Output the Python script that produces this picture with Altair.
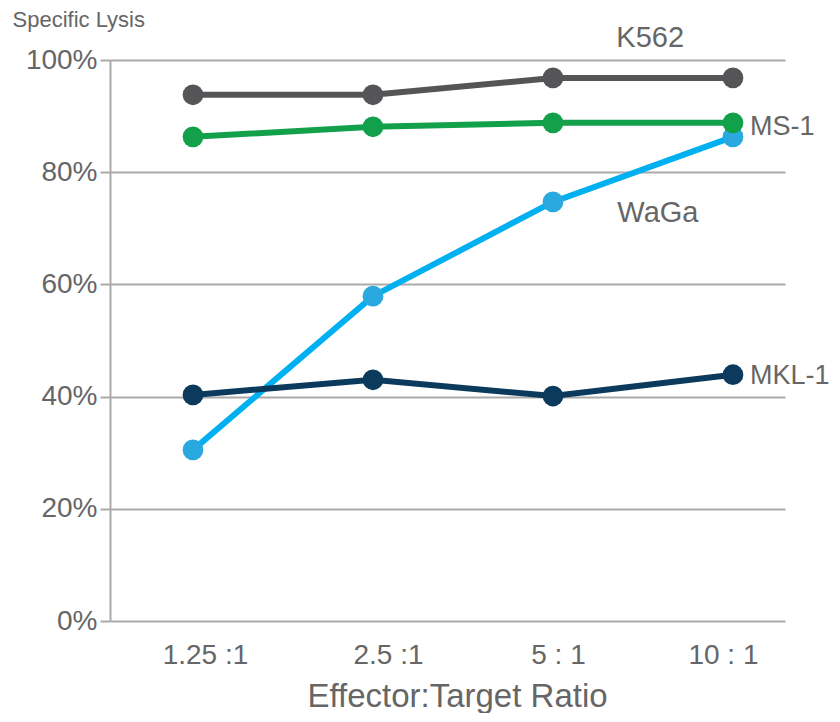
import altair as alt
import pandas as pd

ratios = ["1.25 :1", "2.5 :1", "5 : 1", "10 : 1"]
k562 = [93.8, 93.8, 96.8, 96.8]
ms1 = [86.3, 88.1, 88.8, 88.8]
waga = [30.5, 57.9, 74.7, 86.3]
mkl1 = [40.3, 43.0, 40.1, 43.9]

series_names = ["WaGa", "MKL-1", "K562", "MS-1"]
series_vals = [waga, mkl1, k562, ms1]
line_colors = ["#00b0f0", "#0b3a5c", "#555558", "#12a14a"]
point_colors = ["#2aa8e0", "#0b3a5c", "#555558", "#12a14a"]

label_names = ["K562", "WaGa", "MS-1", "MKL-1"]
label_x = [2.54, 2.583, 3.0, 3.0]
label_y = [103.9, 72.7, 88.0, 43.7]
label_align = ["center", "center", "left", "left"]

FONT = "Liberation Sans"
GRAY = "#666666"

label_expr = "[" + ",".join("'" + r + "'" for r in ratios) + "][datum.value]"

xscale = alt.Scale(domain=[-0.461, 3.289], nice=False, zero=False)
yscale = alt.Scale(domain=[0, 100], nice=False)

xaxis = alt.Axis(values=[0, 1, 2, 3], labelExpr=label_expr, title="Effector:Target Ratio",
                 grid=False, ticks=False, domain=False, labelFontSize=28, labelColor=GRAY,
                 labelFont=FONT, labelPadding=20,
                 labelOffset=alt.ExprRef("[12, 15, 5, -10][datum.value]"),
                 titleFont=FONT, titleFontSize=33,
                 titleColor=GRAY, titleFontWeight="normal", titlePadding=11,
                 titleX=347, titleAlign="center")
yaxis = alt.Axis(values=[0, 20, 40, 60, 80, 100], labelExpr="datum.value + '%'",
                 grid=True, gridColor="#aaaaaa", gridWidth=2, domainColor="#aaaaaa",
                 domainWidth=2, tickColor="#aaaaaa", tickWidth=2, tickSize=10,
                 labelFontSize=28, labelColor=GRAY, labelFont=FONT, labelPadding=3,
                 title="Specific Lysis", titleAngle=0, titleAlign="left",
                 titleBaseline="alphabetic", titleX=-98, titleY=-34, titleFont=FONT,
                 titleFontSize=22, titleColor=GRAY, titleFontWeight="normal")

X = alt.X("idx:Q", scale=xscale, axis=xaxis)
Y = alt.Y("value:Q", scale=yscale, axis=yaxis)

layers = []
for name, vals, lc, pc in zip(series_names, series_vals, line_colors, point_colors):
    df = pd.DataFrame({"idx": list(range(len(ratios))), "ratio": ratios, "value": vals, "series": name})
    base = alt.Chart(df)
    layers.append(base.mark_line(color=lc, strokeWidth=6).encode(x=X, y=Y))
    layers.append(base.mark_circle(color=pc, size=430, opacity=1).encode(x=X, y=Y))

labels_df = pd.DataFrame({"name": label_names, "idx": label_x, "value": label_y, "align": label_align})
for al, dx, fs in [("center", 0, 29), ("left", 17, 27)]:
    sub = labels_df[labels_df["align"] == al]
    layers.append(
        alt.Chart(sub).mark_text(align=al, baseline="middle", dx=dx, fontSize=fs,
                                 font=FONT, color=GRAY, clip=False)
        .encode(x=X, y=Y, text="name:N")
    )

chart = alt.layer(*layers).properties(
    width=675, height=561,
    autosize=alt.AutoSizeParams(type="none"),
    padding={"left": 102, "top": 52, "right": 47, "bottom": 92},
    background="white",
).configure_view(stroke=None)

chart.save("out.html", embed_options={"renderer": "svg", "actions": False})
